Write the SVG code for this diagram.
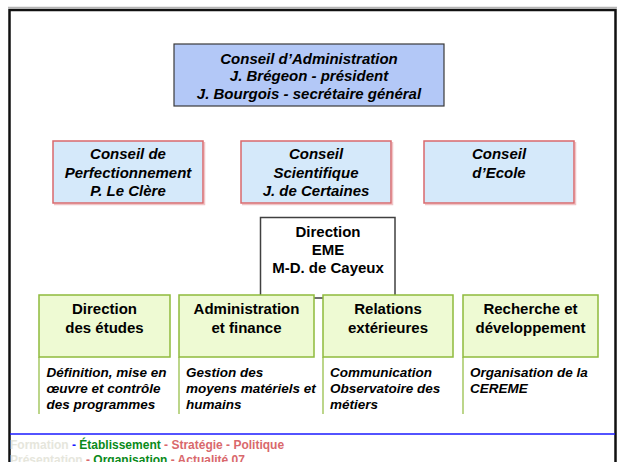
<svg xmlns="http://www.w3.org/2000/svg" width="618" height="462" viewBox="0 0 618 462">
<style>
text{font-family:"Liberation Sans",Arial,sans-serif;font-weight:bold;fill:#000;}
.c{text-anchor:middle;font-size:15px;}
.i{font-style:italic;}
.d{font-size:13.5px;font-style:italic;}
.ca{fill:#b3c8f7;stroke:#3a3a3a;stroke-width:1.2;}
.cs{fill:#d5e9fa;stroke:#d9686c;stroke-width:1.5;}
.sh{fill:none;stroke:#f0c4c6;stroke-width:1.5;}
.dir{fill:#fff;stroke:#404040;stroke-width:1.5;}
.g{fill:#eefad3;stroke:#8fba3c;stroke-width:1.5;}
.gl{stroke:#8fba3c;stroke-width:1.2;}
</style>
<rect width="618" height="462" fill="#fff"/>
<g id="frame">
<line x1="8" y1="7.5" x2="617" y2="7.5" stroke="#b4b4b4" stroke-width="1.5"/>
<path d="M9.5,462 V10 H615.5 V462" fill="none" stroke="#111" stroke-width="2.5"/>
<line x1="10" y1="434" x2="615" y2="434" stroke="#1a1aff" stroke-width="1.5"/>
</g>
<g id="connectors"></g>
<g id="conseil-admin">
<rect class="ca" x="174" y="44" width="270" height="62"/>
<text class="c i" x="309" y="63.5">Conseil  d’Administration</text>
<text class="c i" x="309" y="81">J. Brégeon - président</text>
<text class="c i" x="309" y="98.5">J. Bourgois - secrétaire général</text>
</g>
<g id="conseil-perf">
<path class="sh" d="M204.5,142 V204.5 H54"/>
<rect class="cs" x="53" y="141" width="150" height="62"/>
<text class="c i" x="128" y="159">Conseil de</text>
<text class="c i" x="128" y="178">Perfectionnement</text>
<text class="c i" x="128" y="196">P. Le Clère</text>
</g>
<g id="conseil-sci">
<path class="sh" d="M392.5,142 V204.5 H242"/>
<rect class="cs" x="241" y="141" width="150" height="62"/>
<text class="c i" x="316" y="159">Conseil</text>
<text class="c i" x="316" y="178">Scientifique</text>
<text class="c i" x="316" y="196">J. de Certaines</text>
</g>
<g id="conseil-ecole">
<path class="sh" d="M575.5,142 V204.5 H425"/>
<rect class="cs" x="424" y="141" width="150" height="62"/>
<text class="c i" x="499" y="159">Conseil</text>
<text class="c i" x="499" y="178">d’Ecole</text>
</g>
<g id="direction">
<rect class="dir" x="260.5" y="217.5" width="134.5" height="80.5"/>
<text class="c" x="328" y="237">Direction</text>
<text class="c" x="328" y="255">EME</text>
<text class="c" x="328" y="273">M-D. de Cayeux</text>
</g>
<g id="dir-etudes">
<rect class="g" x="39" y="295" width="131" height="62"/>
<text class="c" x="104.5" y="314">Direction</text>
<text class="c" x="104.5" y="332.5">des études</text>
<line class="gl" x1="39" y1="357" x2="39" y2="414"/>
<text class="d" x="46.5" y="377">Définition, mise en</text>
<text class="d" x="46.5" y="393">œuvre et contrôle</text>
<text class="d" x="46.5" y="409">des programmes</text>
</g>
<g id="admin-finance">
<rect class="g" x="179" y="295" width="135" height="62"/>
<text class="c" x="246.5" y="314">Administration</text>
<text class="c" x="246.5" y="332.5">et finance</text>
<line class="gl" x1="179" y1="357" x2="179" y2="414"/>
<text class="d" x="186" y="377">Gestion des</text>
<text class="d" x="186" y="393">moyens matériels et</text>
<text class="d" x="186" y="409">humains</text>
</g>
<g id="relations">
<rect class="g" x="323" y="295" width="130" height="62"/>
<text class="c" x="388" y="314">Relations</text>
<text class="c" x="388" y="332.5">extérieures</text>
<line class="gl" x1="323" y1="357" x2="323" y2="414"/>
<text class="d" x="330" y="377">Communication</text>
<text class="d" x="330" y="393">Observatoire des</text>
<text class="d" x="330" y="409">métiers</text>
</g>
<g id="recherche">
<rect class="g" x="463" y="295" width="135" height="62"/>
<text class="c" x="530.5" y="314">Recherche et</text>
<text class="c" x="530.5" y="332.5">développement</text>
<line class="gl" x1="463" y1="357" x2="463" y2="414"/>
<text class="d" x="470" y="377">Organisation de la</text>
<text class="d" x="470" y="393">CEREME</text>
</g>
<g id="footer" font-size="12">
<text x="10" y="449" font-size="12"><tspan fill="#e6e6dc">Formation</tspan><tspan fill="#1a1aff"> - </tspan><tspan fill="#0a8a1a"> Établissement</tspan><tspan fill="#d9686c"> - Stratégie - Politique</tspan></text>
<text x="10" y="463.5" font-size="12"><tspan fill="#e6e6dc">Présentation</tspan><tspan fill="#d9686c"> - </tspan><tspan fill="#0a8a1a">Organisation</tspan><tspan fill="#d9686c"> - Actualité 07</tspan></text>
</g>
</svg>
